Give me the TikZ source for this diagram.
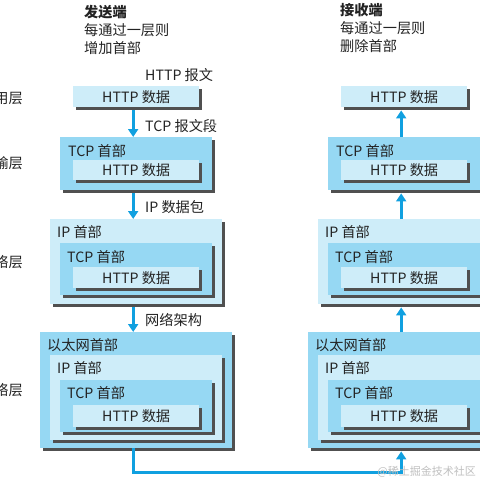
\documentclass[tikz,border=0pt]{standalone}
\usepackage{fontspec}
\setmainfont{Noto Sans CJK SC}
\usepackage{xcolor}
\usetikzlibrary{arrows.meta, positioning, shadows}

\definecolor{pktlight}{RGB}{206,237,249}
\definecolor{pktdeep}{RGB}{150,216,243}
\definecolor{flowblue}{RGB}{16,160,224}
\definecolor{shade}{RGB}{80,80,80}
\definecolor{ink}{RGB}{35,35,35}

\begin{document}
\begin{tikzpicture}[x=1pt,y=-1pt,font=\fontsize{14.2}{18}\selectfont,text=ink,
        every node/.style={inner sep=0pt},
        box/.style={rectangle,anchor=north west,
          drop shadow={shadow xshift=3pt,shadow yshift=-3pt,fill=shade,opacity=1}},
        lite/.style={box,fill=pktlight},
        deep/.style={box,fill=pktdeep},
        httpbox/.style={lite,minimum width=126pt,minimum height=21pt},
        tcpbox/.style={deep,minimum width=152pt,minimum height=53pt},
        ipbox/.style={lite,minimum width=172pt,minimum height=85pt},
        ethbox/.style={deep,minimum width=192pt,minimum height=116pt},
        hdr/.style={anchor=west},
        flow/.style={draw=flowblue,line width=3pt,-{Triangle[width=10pt,length=8pt]}}]

      \useasboundingbox (0,0) rectangle (480,480);

      % notes on top
      \node[anchor=north west,align=left] (sendNote) at (84,5) {\textbf{发送端}\\每通过一层则\\增加首部};
      \node[anchor=north west,align=left] (recvNote) at (340,3) {\textbf{接收端}\\每通过一层则\\删除首部};

      % layer names, cut at the left edge
      \node[anchor=east] (layApp) at (23,99)  {用层};
      \node[anchor=east] (layTsp) at (23,163) {输层};
      \node[anchor=east] (layNet) at (23,262) {络层};
      \node[anchor=east] (layLnk) at (23,390) {络层};

      % sending side
      \node[httpbox] (sHttpA) at (73,86) {HTTP 数据};

      \node[tcpbox]  (sTcpB)  at (60,137) {};
      \node[hdr]     (sTcpBh) at ([shift={(8,14)}]sTcpB.north west) {TCP 首部};
      \node[httpbox,minimum height=20pt] (sHttpB) at (73,160) {HTTP 数据};

      \node[ipbox]   (sIpC)   at (50,219) {};
      \node[hdr]     (sIpCh)  at ([shift={(7,13)}]sIpC.north west) {IP 首部};
      \node[tcpbox,minimum height=52pt] (sTcpC) at (60,243) {};
      \node[hdr]     (sTcpCh) at ([shift={(7,14)}]sTcpC.north west) {TCP 首部};
      \node[httpbox] (sHttpC) at (73,267) {HTTP 数据};

      \node[ethbox]  (sEthD)  at (40,332) {};
      \node[hdr]     (sEthDh) at ([shift={(7,13)}]sEthD.north west) {以太网首部};
      \node[ipbox]   (sIpD)   at (50,355) {};
      \node[hdr]     (sIpDh)  at ([shift={(7,13)}]sIpD.north west) {IP 首部};
      \node[tcpbox,minimum height=52pt] (sTcpD) at (60,380) {};
      \node[hdr]     (sTcpDh) at ([shift={(7,13)}]sTcpD.north west) {TCP 首部};
      \node[httpbox,minimum height=22pt] (sHttpD) at (73,405) {HTTP 数据};

      % receiving side
      \node[httpbox] (rHttpA) at (341,86) {HTTP 数据};

      \node[tcpbox]  (rTcpB)  at (328,137) {};
      \node[hdr]     (rTcpBh) at ([shift={(8,14)}]rTcpB.north west) {TCP 首部};
      \node[httpbox,minimum height=20pt] (rHttpB) at (341,160) {HTTP 数据};

      \node[ipbox]   (rIpC)   at (318,219) {};
      \node[hdr]     (rIpCh)  at ([shift={(7,13)}]rIpC.north west) {IP 首部};
      \node[tcpbox,minimum height=52pt] (rTcpC) at (328,243) {};
      \node[hdr]     (rTcpCh) at ([shift={(7,14)}]rTcpC.north west) {TCP 首部};
      \node[httpbox] (rHttpC) at (341,267) {HTTP 数据};

      \node[ethbox]  (rEthD)  at (308,332) {};
      \node[hdr]     (rEthDh) at ([shift={(7,13)}]rEthD.north west) {以太网首部};
      \node[ipbox]   (rIpD)   at (318,355) {};
      \node[hdr]     (rIpDh)  at ([shift={(7,13)}]rIpD.north west) {IP 首部};
      \node[tcpbox,minimum height=52pt] (rTcpD) at (328,380) {};
      \node[hdr]     (rTcpDh) at ([shift={(7,13)}]rTcpD.north west) {TCP 首部};
      \node[httpbox,minimum height=22pt] (rHttpD) at (341,405) {HTTP 数据};

      % arrows down, with their names
      \node[anchor=west] (lblMsg) at (145,75)  {HTTP 报文};
      \node[anchor=west] (lblSeg) at (145,126) {TCP 报文段};
      \node[anchor=west] (lblPkt) at (145,207) {IP 数据包};
      \node[anchor=west] (lblFrm) at (145,320) {网络架构};

      \draw[flow,shorten <=3pt] ([xshift=-3pt]sHttpA.south) -- ([xshift=-3pt]sTcpB.north);
      \draw[flow,shorten <=3pt] ([xshift=-3pt]sTcpB.south) -- ([xshift=-3pt]sIpC.north);
      \draw[flow,shorten <=3pt] ([xshift=-3pt]sIpC.south) -- ([xshift=-3pt]sEthD.north);

      % arrows up
      \draw[flow] ([xshift=-3pt]rTcpB.north) -- ([xshift=-3pt,yshift=-3pt]rHttpA.south);
      \draw[flow] ([xshift=-3pt]rIpC.north) -- ([xshift=-3pt,yshift=-3pt]rTcpB.south);
      \draw[flow] ([xshift=-3pt]rEthD.north) -- ([xshift=-3pt,yshift=-3pt]rIpC.south);

      % the wire
      \coordinate (bus) at (267,472);
      \draw[flow] ([xshift=-3pt]sEthD.south) |- (bus) -| ([xshift=-3pt,yshift=-3pt]rEthD.south);

      \node[anchor=east,text=black!25,font=\fontsize{11}{13}\selectfont] (mark) at (476,472) {@稀土掘金技术社区};
    \end{tikzpicture}
\end{document}
